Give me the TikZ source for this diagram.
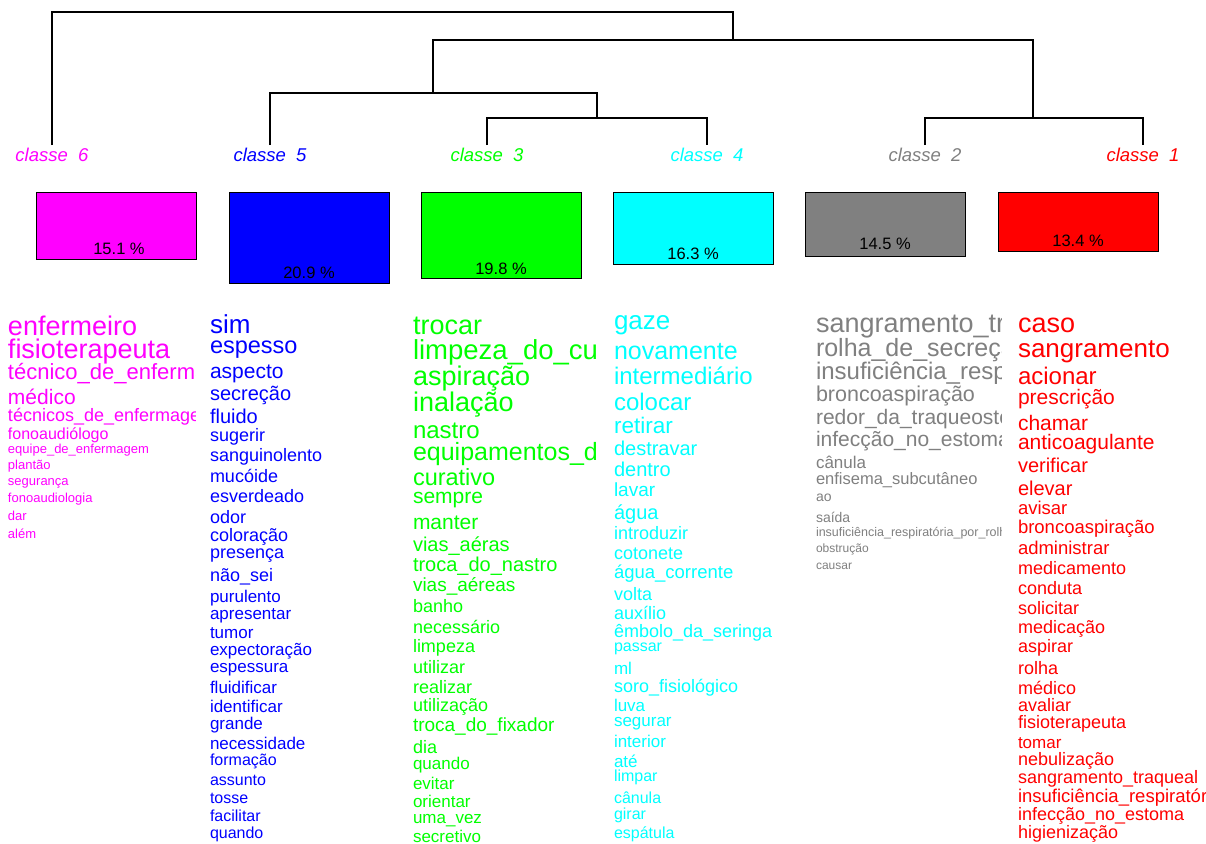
\documentclass[tikz,border=0pt]{standalone}
\usepackage{fontspec}
\setmainfont{Liberation Sans}
\definecolor{cmag}{RGB}{255,0,255}
\definecolor{cblu}{RGB}{0,0,255}
\definecolor{cgrn}{RGB}{0,255,0}
\definecolor{ccya}{RGB}{0,255,255}
\definecolor{cgry}{RGB}{128,128,128}
\definecolor{cred}{RGB}{255,0,0}
\begin{document}
\begin{tikzpicture}[x=1pt,y=-1pt,
  tree/.style={line width=1.3pt,black},
  clabel/.style={font=\fontsize{18.5}{18.5}\selectfont\itshape,inner sep=0},
  box/.style={draw=black,line width=1.2pt,anchor=north west,inner sep=0,minimum width=160},
  pct/.style={font=\fontsize{16.5}{16.5}\selectfont,text=black,inner sep=0},
  word/.style={anchor=base west,inner sep=0,outer sep=0}]
\useasboundingbox[fill=white] (0,0) rectangle (1206,843);
% dendrogram
\coordinate (t6) at (52,145);
\coordinate (t5) at (270,145);
\coordinate (t3) at (487,145);
\coordinate (t4) at (707,145);
\coordinate (t2) at (925,145);
\coordinate (t1) at (1143,145);
\coordinate (rt) at (733,12);
\coordinate (A) at (733,40);
\coordinate (B) at (433,93);
\coordinate (C) at (1033,118);
\coordinate (D) at (597,118);
\draw[tree] (t6) |- (rt) -- (A);
\draw[tree] (B) |- (A) -| (C);
\draw[tree] (t5) |- (B) -| (D);
\draw[tree] (t3) |- (D) -| (t4);
\draw[tree] (t2) |- (C) -| (t1);
% class labels
\node[clabel,text=cmag] (l6) at (52,155) {classe\ \ 6};
\node[clabel,text=cblu] (l5) at (270,155) {classe\ \ 5};
\node[clabel,text=cgrn] (l3) at (487,155) {classe\ \ 3};
\node[clabel,text=ccya] (l4) at (707,155) {classe\ \ 4};
\node[clabel,text=cgry] (l2) at (925,155) {classe\ \ 2};
\node[clabel,text=cred] (l1) at (1143,155) {classe\ \ 1};
% boxes
\node[box,fill=cmag,minimum height=67] (b6) at (36,192) {};
\node[box,fill=cblu,minimum height=91] (b5) at (229,192) {};
\node[box,fill=cgrn,minimum height=86] (b3) at (421,192) {};
\node[box,fill=ccya,minimum height=72] (b4) at (613,192) {};
\node[box,fill=cgry,minimum height=64] (b2) at (805,192) {};
\node[box,fill=cred,minimum height=59] (b1) at (998,192) {};
\node[pct] (p6) at (119,249) {15.1 \%};
\node[pct] (p5) at (309,273) {20.9 \%};
\node[pct] (p3) at (501,269) {19.8 \%};
\node[pct] (p4) at (693,254) {16.3 \%};
\node[pct] (p2) at (885,244) {14.5 \%};
\node[pct] (p1) at (1078,241) {13.4 \%};
% word lists
\begin{scope}
\clip (0,300) rectangle (195,843);
\foreach \t/\y/\s [count=\i] in {enfermeiro/327/27, fisioterapeuta/350/27, técnico\_de\_enfermagem/373/22, médico/398/21, técnicos\_de\_enfermagem/416/18, fonoaudiólogo/435/16, equipe\_de\_enfermagem/450/13, plantão/466/13, segurança/482/13, fonoaudiologia/499/13, dar/517/13, além/535/13}
  \node[word,text=cmag,font=\fontsize{\s}{\s}\selectfont] (w6-\i) at (8,{\y+0.3*\s}) {\t};
\end{scope}
\begin{scope}
\clip (200,300) rectangle (397,843);
\foreach \t/\y/\s [count=\i] in {sim/326/26, espesso/346/23.5, aspecto/372/21, secreção/394/20, fluido/417/20, sugerir/436/18, sanguinolento/456/18, mucóide/477/18, esverdeado/497/18, odor/518/18, coloração/536/18, presença/553/18, não\_sei/576/18, purulento/597/17, apresentar/614/17, tumor/633/17, expectoração/650/17, espessura/667/17, fluidificar/688/17, identificar/707/17, grande/724/17, necessidade/744/17, formação/761/16, assunto/781/16, tosse/799/16, facilitar/817/16, quando/834/16}
  \node[word,text=cblu,font=\fontsize{\s}{\s}\selectfont] (w5-\i) at (210,{\y+0.3*\s}) {\t};
\end{scope}
\begin{scope}
\clip (403,300) rectangle (597,843);
\foreach \t/\y/\s [count=\i] in {trocar/326/27, limpeza\_do\_curativo/351/27.5, aspiração/377/27, inalação/403/27, nastro/431/24, equipamentos\_de\_proteção/453/25, curativo/478/23.5, sempre/497/21, manter/523/21, vias\_aéras/545/20, troca\_do\_nastro/565/20, vias\_aéreas/586/19, banho/607/18, necessário/628/18, limpeza/647/18, utilizar/668/18, realizar/688/18, utilização/706/18, troca\_do\_fixador/726/19, dia/748/18, quando/764/17, evitar/784/17, orientar/802/17, uma\_vez/818/17, secretivo/837/17}
  \node[word,text=cgrn,font=\fontsize{\s}{\s}\selectfont] (w3-\i) at (413,{\y+0.3*\s}) {\t};
\end{scope}
\begin{scope}
\clip (604,300) rectangle (800,843);
\foreach \t/\y/\s [count=\i] in {gaze/322/26, novamente/352/25, intermediário/377/24, colocar/403/24, retirar/427/22.5, destravar/449/20, dentro/470/20, lavar/491/19, água/513/20, introduzir/534/18, cotonete/554/18, água\_corrente/573/18.5, volta/595/18, auxílio/614/18, êmbolo\_da\_seringa/632/18, passar/647/16, ml/669/17, soro\_fisiológico/687/18, luva/706/17, segurar/721/17, interior/742/17, até/762/17, limpar/777/16, cânula/799/16, girar/815/16, espátula/834/16}
  \node[word,text=ccya,font=\fontsize{\s}{\s}\selectfont] (w4-\i) at (614,{\y+0.3*\s}) {\t};
\end{scope}
\begin{scope}
\clip (806,300) rectangle (1001,843);
\foreach \t/\y/\s [count=\i] in {sangramento\_traqueal/324/27, rolha\_de\_secreção/349/25, insuficiência\_respiratória/372/24, broncoaspiração/395/21.5, redor\_da\_traqueostomia/418/21, infecção\_no\_estoma/440/21, cânula/463/17, enfisema\_subcutâneo/480/16.5, ao/497/14, saída/518/14, insuficiência\_respiratória\_por\_rolha/533/12.5, obstrução/549/12, causar/566/12}
  \node[word,text=cgry,font=\fontsize{\s}{\s}\selectfont] (w2-\i) at (816,{\y+0.3*\s}) {\t};
\end{scope}
\begin{scope}
\clip (1008,300) rectangle (1206,843);
\foreach \t/\y/\s [count=\i] in {caso/324/27, sangramento/350/26, acionar/377/24, prescrição/398/21, chamar/424/21, anticoagulante/443/21, verificar/466/20, elevar/489/20, avisar/509/18.5, broncoaspiração/528/18.5, administrar/549/18.5, medicamento/569/18, conduta/589/18, solicitar/609/18, medicação/628/18, aspirar/647/18, rolha/669/18, médico/689/18, avaliar/706/18, fisioterapeuta/723/18, tomar/743/17, nebulização/760/18, sangramento\_traqueal/778/18, insuficiência\_respiratória/797/18.5, infecção\_no\_estoma/815/18, higienização/833/18}
  \node[word,text=cred,font=\fontsize{\s}{\s}\selectfont] (w1-\i) at (1018,{\y+0.3*\s}) {\t};
\end{scope}
\end{tikzpicture}
\end{document}
